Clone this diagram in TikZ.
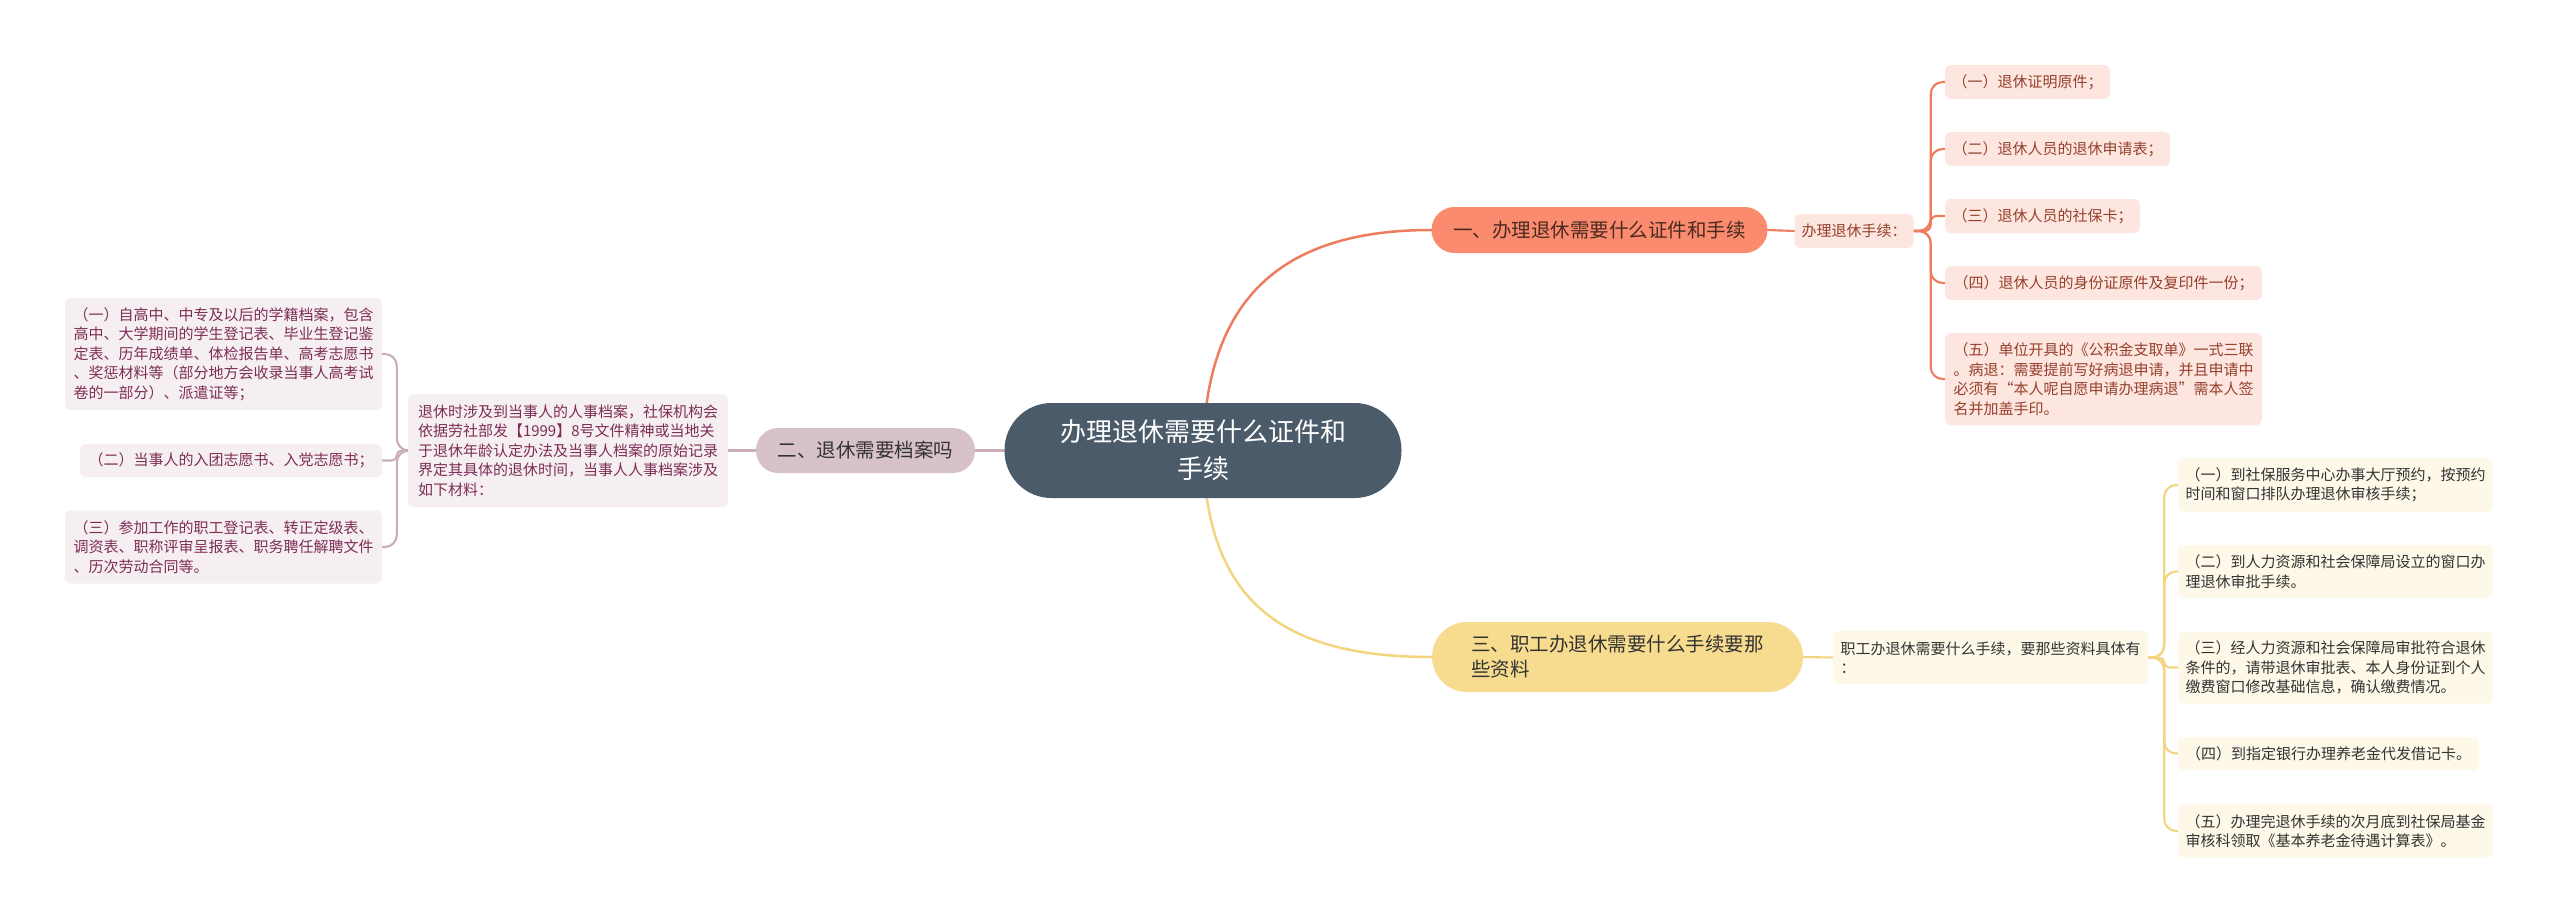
\documentclass[tikz,border=0pt]{standalone}
\usepackage{fontspec}
\usetikzlibrary{backgrounds}
\newfontfamily\cjk{Noto Sans CJK SC}
\definecolor{cfill}{HTML}{4B5B6A}
\definecolor{oline}{HTML}{EE7D60}
\definecolor{ofill}{HTML}{FA8B6F}
\definecolor{otext}{HTML}{4A2A20}
\definecolor{pfill}{HTML}{FDE6DF}
\definecolor{ptext}{HTML}{96402C}
\definecolor{mline}{HTML}{C9AEBA}
\definecolor{mfill}{HTML}{D7C2CB}
\definecolor{lfill}{HTML}{F6EFF2}
\definecolor{ltext}{HTML}{7D2E55}
\definecolor{yline}{HTML}{F3D57F}
\definecolor{yfill}{HTML}{F7DC8F}
\definecolor{sfill}{HTML}{FDF8E8}
\definecolor{stext}{HTML}{333333}
\tikzset{
  box/.style={inner sep=0pt, align=left, font=\cjk\fontsize{15}{19.5}\selectfont, rounded corners=6pt},
  pbox/.style={box, fill=pfill, text=ptext},
  lbox/.style={box, fill=lfill, text=ltext},
  sbox/.style={box, fill=sfill, text=stext},
  lnk/.style={line width=2.5pt, line cap=round},
  brk/.style={line width=2.1pt, line cap=round},
}
\begin{document}
\begin{tikzpicture}[x=1pt,y=-1pt]
\path[use as bounding box] (0,0) rectangle (2560,923);

% central and branches
\node[inner sep=0pt, minimum width=397pt, minimum height=95pt, rounded corners=47pt, fill=cfill, text=white, align=center, font=\cjk\fontsize{26}{37}\selectfont] (c) at (1203,450.5) {办理退休需要什么证件和\\手续};
\node[inner sep=0pt, minimum width=336pt, minimum height=46pt, rounded corners=23pt, fill=ofill, text=otext, font=\cjk\fontsize{19.5}{25}\selectfont] (b1) at (1599.5,230) {一、办理退休需要什么证件和手续};
\node[inner sep=0pt, minimum width=219pt, minimum height=45pt, rounded corners=22pt, fill=mfill, text=stext, font=\cjk\fontsize{19.5}{25}\selectfont] (b2) at (865.5,450.5) {二、退休需要档案吗};
\node[inner sep=0pt, minimum width=371pt, minimum height=70pt, rounded corners=35pt, fill=yfill, text=stext, align=left, font=\cjk\fontsize{19.5}{25}\selectfont] (b3) at (1617.5,657) {三、职工办退休需要什么手续要那\\些资料};

% branch 1 children
\node[pbox, minimum width=119pt, minimum height=34pt] (s1) at (1854,231) {办理退休手续：};
\node[pbox, minimum width=165pt, minimum height=34pt] (a1) at (2027.5,82) {（一）退休证明原件；};
\node[pbox, minimum width=225pt, minimum height=34pt] (a2) at (2057.5,149) {（二）退休人员的退休申请表；};
\node[pbox, minimum width=195pt, minimum height=34pt] (a3) at (2042.5,216) {（三）退休人员的社保卡；};
\node[pbox, minimum width=317pt, minimum height=34pt] (a4) at (2103.5,283) {（四）退休人员的身份证原件及复印件一份；};
\node[pbox, minimum width=317pt, minimum height=92pt] (a5) at (2103.5,379) {（五）单位开具的《公积金支取单》一式三联\\。病退：需要提前写好病退申请，并且申请中\\必须有“本人呢自愿申请办理病退”需本人签\\名并加盖手印。};

% branch 2 children
\node[lbox, minimum width=320pt, minimum height=113pt] (s2) at (568,450.5) {退休时涉及到当事人的人事档案，社保机构会\\依据劳社部发【1999】8号文件精神或当地关\\于退休年龄认定办法及当事人档案的原始记录\\界定其具体的退休时间，当事人人事档案涉及\\如下材料：};
\node[lbox, minimum width=317pt, minimum height=112pt] (l1) at (223.5,354) {（一）自高中、中专及以后的学籍档案，包含\\高中、大学期间的学生登记表、毕业生登记鉴\\定表、历年成绩单、体检报告单、高考志愿书\\、奖惩材料等（部分地方会收录当事人高考试\\卷的一部分）、派遣证等；};
\node[lbox, minimum width=302pt, minimum height=33pt] (l2) at (231,460.5) {（二）当事人的入团志愿书、入党志愿书；};
\node[lbox, minimum width=317pt, minimum height=73pt] (l3) at (223.5,547) {（三）参加工作的职工登记表、转正定级表、\\调资表、职称评审呈报表、职务聘任解聘文件\\、历次劳动合同等。};

% branch 3 children
\node[sbox, minimum width=315pt, minimum height=53pt] (s3) at (1990.5,657.5) {职工办退休需要什么手续，要那些资料具体有\\：};
\node[sbox, minimum width=315pt, minimum height=54pt] (r1) at (2335.5,485) {（一）到社保服务中心办事大厅预约，按预约\\时间和窗口排队办理退休审核手续；};
\node[sbox, minimum width=315pt, minimum height=53pt] (r2) at (2335.5,571.5) {（二）到人力资源和社会保障局设立的窗口办\\理退休审批手续。};
\node[sbox, minimum width=315pt, minimum height=72pt] (r3) at (2335.5,667.5) {（三）经人力资源和社会保障局审批符合退休\\条件的，请带退休审批表、本人身份证到个人\\缴费窗口修改基础信息，确认缴费情况。};
\node[sbox, minimum width=301pt, minimum height=33pt] (r4) at (2328.5,753.5) {（四）到指定银行办理养老金代发借记卡。};
\node[sbox, minimum width=315pt, minimum height=53pt] (r5) at (2335.5,831) {（五）办理完退休手续的次月底到社保局基金\\审核科领取《基本养老金待遇计算表》。};

% connectors behind nodes
\begin{scope}[on background layer]
\fill[white] (0,0) rectangle (2560,923);
\draw[lnk, oline] (c.center) .. controls (1206,300) and (1280,230) .. (b1.west);
\draw[lnk, yline] (c.center) .. controls (1206,600) and (1280,657) .. (b3.west);
\draw[lnk, mline] (c.center) -- (b2.east);
\draw[brk, oline] (b1.east) -- (s1.west);
\draw[brk, mline] (b2.west) -- (s2.east);
\draw[brk, yline] (b3.east) -- (s3.west);
\foreach \n in {a1,a2,a4,a5}
  \draw[brk, oline, rounded corners=12pt] (s1.east) -- ++(17,0) |- (\n.west);
\draw[brk, oline, rounded corners=6pt] (s1.east) -- ++(17,0) |- (a3.west);
\foreach \n in {l1,l3}
  \draw[brk, mline, rounded corners=12pt] (s2.west) -- ++(-11,0) |- (\n.east);
\draw[brk, mline, rounded corners=5pt] (s2.west) -- ++(-11,0) |- (l2.east);
\foreach \n in {r1,r2,r4,r5}
  \draw[brk, yline, rounded corners=12pt] (s3.east) -- ++(16,0) |- (\n.west);
\draw[brk, yline, rounded corners=5pt] (s3.east) -- ++(16,0) |- (r3.west);
\end{scope}
\end{tikzpicture}
\end{document}
